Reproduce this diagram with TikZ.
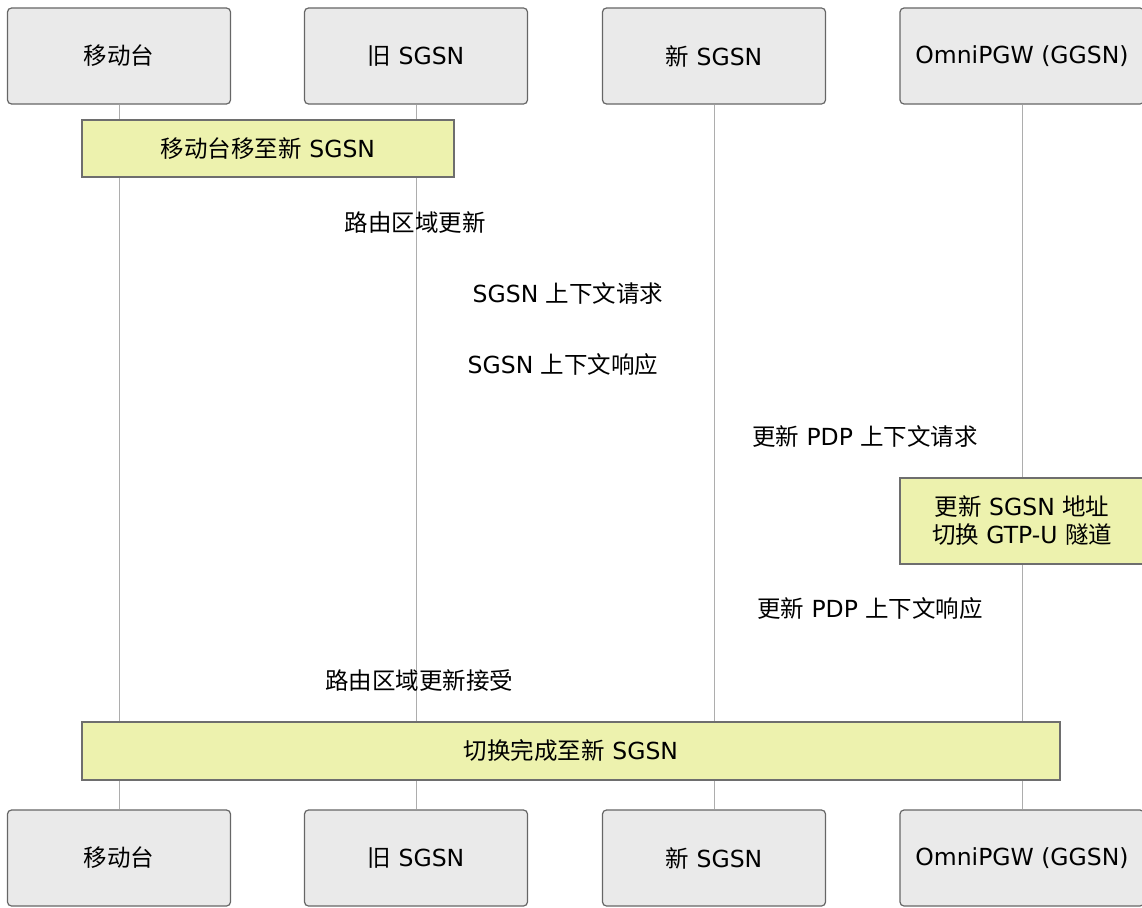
\documentclass[tikz,border=0pt]{standalone}
\usepackage{fontspec}
\setmainfont{DejaVu Sans}
\newfontfamily\cjk{Noto Sans CJK SC}
\newcommand{\zh}[1]{{\cjk #1}}
\usepackage{tikz}
\usetikzlibrary{positioning}
\usepackage{xcolor}
\definecolor{ActorFill}{HTML}{EAEAEA}
\definecolor{ActorLine}{HTML}{666666}
\definecolor{NoteFill}{HTML}{EDF2AE}
\definecolor{NoteLine}{HTML}{6E6E6E}
\definecolor{LifeGray}{HTML}{ADADAD}
\tikzset{
  actorbox/.style={draw=ActorLine, line width=1.2pt, rounded corners=4pt,
    fill=ActorFill, minimum width=223pt, minimum height=96pt, inner sep=0pt,
    font=\fontsize{23.5}{28}\selectfont},
  notebox/.style={draw=NoteLine, line width=1.2pt, fill=NoteFill,
    minimum height=57pt, inner sep=0pt, align=center,
    font=\fontsize{23.5}{28}\selectfont},
  msglabel/.style={inner sep=0pt, font=\fontsize{23.5}{28}\selectfont},
  lifeline/.style={draw=LifeGray, line width=1pt},
}

\begin{document}
\begin{tikzpicture}[x=1pt, y=-1pt]
  \useasboundingbox (0,0) rectangle (1142,907);
  % participants, top row
  \node[actorbox] (ms) at (119,56) {\zh{移动台}};
  \node[actorbox] (old) at (416,56) {\zh{旧} SGSN};
  \node[actorbox] (new) at (714,56) {\zh{新} SGSN};
  \node[actorbox, minimum width=244pt] (pgw) at (1022,56) {OmniPGW (GGSN)};
  % participants, bottom row
  \node[actorbox] (msb) at (119,858) {\zh{移动台}};
  \node[actorbox] (oldb) at (416,858) {\zh{旧} SGSN};
  \node[actorbox] (newb) at (714,858) {\zh{新} SGSN};
  \node[actorbox, minimum width=244pt] (pgwb) at (1022,858) {OmniPGW (GGSN)};
  % lifelines
  \draw[lifeline] (ms) -- (msb);
  \draw[lifeline] (old) -- (oldb);
  \draw[lifeline] (new) -- (newb);
  \draw[lifeline] (pgw) -- (pgwb);
  % notes
  \node[notebox, minimum width=372pt] (move) at (268,148.5) {\zh{移动台移至新} SGSN};
  \node[notebox, minimum width=244pt, minimum height=86pt] (tunnel) at (1022,521)
    {\zh{更新} SGSN \zh{地址}\\\zh{切换} GTP-U \zh{隧道}};
  \node[notebox, minimum width=978pt, minimum height=58pt] (done) at (571,751) {\zh{切换完成至新} SGSN};
  % message labels
  \node[msglabel] (rau) at (415,223) {\zh{路由区域更新}};
  \node[msglabel] (ctxreq) at (568,294) {SGSN \zh{上下文请求}};
  \node[msglabel] (ctxrsp) at (563,365) {SGSN \zh{上下文响应}};
  \node[msglabel] (pdpreq) at (865,437) {\zh{更新} PDP \zh{上下文请求}};
  \node[msglabel] (pdprsp) at (870,609) {\zh{更新} PDP \zh{上下文响应}};
  \node[msglabel] (rauacc) at (419,681) {\zh{路由区域更新接受}};
\end{tikzpicture}
\end{document}
